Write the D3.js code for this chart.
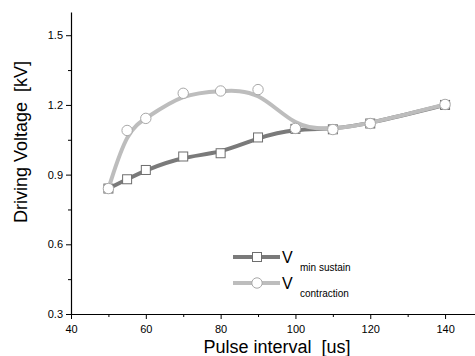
<!DOCTYPE html>
<html>
<head>
<meta charset="utf-8">
<script src="https://cdn.jsdelivr.net/npm/d3@7"></script>
<style>
  body { margin: 0; background: #fff; }
  text { font-family: "Liberation Sans", Arial, sans-serif; }
</style>
</head>
<body>
<div id="chart"></div>
<script>
// data
const pulseInterval = [50, 55, 60, 70, 80, 90, 100, 110, 120, 140];
const vMinSustain   = [0.84, 0.88, 0.92, 0.978, 0.992, 1.06, 1.097, 1.095, 1.12, 1.2];
const vContraction  = [0.84, 1.09, 1.142, 1.25, 1.26, 1.266, 1.099, 1.094, 1.12, 1.202];
const xMajorTicks = [40, 60, 80, 100, 120, 140];
const xMinorTicks = [50, 70, 90, 110, 130];
const yMajorTicks = [0.3, 0.6, 0.9, 1.2, 1.5];
const yMinorTicks = [0.45, 0.75, 1.05, 1.35];

const width = 475, height = 356;
const margin = { top: 12, right: 0, bottom: 42, left: 71 };

const svg = d3.select('#chart').append('svg')
  .attr('width', width)
  .attr('height', height);

const x = d3.scaleLinear().domain([40, 148]).range([margin.left, width - margin.right]);
const y = d3.scaleLinear().domain([0.3, 1.6]).range([height - margin.bottom, margin.top]);

// Axes
const xAxis = svg.append('g')
  .attr('transform', 'translate(0,' + (height - margin.bottom) + ')')
  .call(d3.axisBottom(x).tickValues(xMajorTicks).tickSize(5).tickSizeOuter(0).tickFormat(d3.format('d')));
xAxis.append('g').call(d3.axisBottom(x).tickValues(xMinorTicks).tickSize(3).tickFormat(''))
  .select('.domain').remove();
xAxis.selectAll('text').attr('font-size', 11).attr('dy', '1.0em').attr('fill', '#000');

const yAxis = svg.append('g')
  .attr('transform', 'translate(' + margin.left + ',0)')
  .call(d3.axisLeft(y).tickValues(yMajorTicks).tickSize(5).tickSizeOuter(0).tickFormat(d3.format('.1f')));
yAxis.append('g').call(d3.axisLeft(y).tickValues(yMinorTicks).tickSize(3).tickFormat(''))
  .select('.domain').remove();
yAxis.selectAll('text').attr('font-size', 11).attr('fill', '#000');

svg.selectAll('.domain').attr('stroke', '#000').attr('stroke-width', 1.2);
svg.selectAll('.tick line').attr('stroke', '#000');

// Axis titles
svg.append('text')
  .attr('x', 277).attr('y', 353)
  .attr('text-anchor', 'middle')
  .attr('font-size', 18)
  .attr('xml:space', 'preserve')
  .text('Pulse interval  [us]');

svg.append('text')
  .attr('transform', 'translate(27,142) rotate(-90)')
  .attr('text-anchor', 'middle')
  .attr('font-size', 18)
  .attr('xml:space', 'preserve')
  .text('Driving Voltage  [kV]');

const series = [
  { name: 'min sustain', values: vMinSustain, line: '#7a7a7a', marker: 'square', stroke: '#6e6e6e' },
  { name: 'contraction', values: vContraction, line: '#bdbdbd', marker: 'circle', stroke: '#a8a8a8' }
];

// smoothed spline like the original plotting program
const line = d3.line()
  .x(d => x(d[0]))
  .y(d => y(d[1]))
  .curve(d3.curveBasis);

function drawMarker(g, kind, cx, cy, stroke) {
  if (kind === 'square') {
    g.append('rect')
      .attr('x', cx - 4.5).attr('y', cy - 4.5)
      .attr('width', 9).attr('height', 9)
      .attr('fill', '#fff').attr('stroke', stroke).attr('stroke-width', 1);
  } else {
    g.append('circle')
      .attr('cx', cx).attr('cy', cy).attr('r', 5.2)
      .attr('fill', '#fff').attr('stroke', stroke).attr('stroke-width', 1);
  }
}

series.forEach(s => {
  const pts = pulseInterval.map((p, i) => [p, s.values[i]]);
  const g = svg.append('g');
  g.append('path')
    .datum(pts)
    .attr('d', line)
    .attr('fill', 'none')
    .attr('stroke', s.line)
    .attr('stroke-width', 4);
  pts.forEach(p => drawMarker(g, s.marker, x(p[0]), y(p[1]), s.stroke));
});

// Legend
const legend = svg.append('g');
series.forEach((s, i) => {
  const ly = 257 + i * 26;
  legend.append('line')
    .attr('x1', 233).attr('x2', 280)
    .attr('y1', ly).attr('y2', ly)
    .attr('stroke', s.line).attr('stroke-width', 4);
  drawMarker(legend, s.marker, 257, ly, s.stroke);
  legend.append('text')
    .attr('x', 282).attr('y', ly + 6)
    .attr('font-size', 16)
    .text('V');
  legend.append('text')
    .attr('x', 300).attr('y', ly + 14)
    .attr('font-size', 10)
    .text(s.name);
});
</script>
</body>
</html>
